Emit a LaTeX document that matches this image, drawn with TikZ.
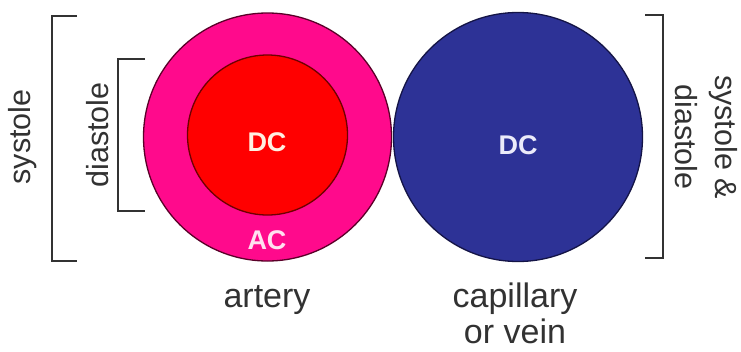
\documentclass[tikz,border=0pt]{standalone}
\usepackage{fontspec}
\setmainfont{Liberation Sans}
\definecolor{pinkc}{RGB}{255,10,140}
\definecolor{redc}{RGB}{255,0,0}
\definecolor{bluec}{RGB}{45,50,150}
\definecolor{txt}{RGB}{50,50,50}
\definecolor{lbl}{RGB}{255,240,225}
\begin{document}
\begin{tikzpicture}[x=1pt,y=-1pt,
  vessel/.style={circle,inner sep=0pt,line width=1.3pt},
  brk/.style={draw=txt,line width=2pt},
  side/.style={text=txt,font=\fontsize{30.5}{40}\selectfont,inner sep=0pt},
  bottom/.style={text=txt,font=\fontsize{34}{38}\selectfont,inner sep=0pt,align=center},
  inlbl/.style={font=\bfseries\fontsize{27}{30}\selectfont,inner sep=0pt}]
\useasboundingbox (0,0) rectangle (741,351);
\node[vessel,fill=pinkc,draw={rgb,255:red,90;green,0;blue,40},minimum size=248pt] (art) at (267.5,137) {};
\node[vessel,fill=redc,draw={rgb,255:red,110;green,0;blue,0},minimum size=160pt] (lum) at (267.5,135) {};
\node[vessel,fill=bluec,draw={rgb,255:red,20;green,20;blue,70},minimum size=249pt] (vein) at (518,137) {};
\node[inlbl,text=lbl] (dc1) at (267,142) {DC};
\node[inlbl,text={rgb,255:red,255;green,225;blue,240}] (ac) at (267,240) {AC};
\node[inlbl,text={rgb,255:red,235;green,235;blue,250}] (dc2) at (518,145) {DC};
% brackets
\coordinate (b1a) at (77,16); \coordinate (b1b) at (52,16);
\coordinate (b1c) at (52,261); \coordinate (b1d) at (77,261);
\draw[brk] (b1a) -- (b1b) -- (b1c) -- (b1d);
\coordinate (b2a) at (145,59); \coordinate (b2b) at (118,59);
\coordinate (b2c) at (118,211); \coordinate (b2d) at (145,211);
\draw[brk] (b2a) -- (b2b) -- (b2c) -- (b2d);
\coordinate (b3a) at (645,15); \coordinate (b3b) at (663,15);
\coordinate (b3c) at (663,258); \coordinate (b3d) at (645,258);
\draw[brk] (b3a) -- (b3b) -- (b3c) -- (b3d);
% labels
\node[side,rotate=90] (sys) at (23,137) {systole};
\node[side,rotate=90] (dia) at (98,135) {diastole};
\node[side,rotate=-90,align=center] (sd) at (706,137) {systole \&\\diastole};
\node[bottom,anchor=base] (artl) at (267,307) {artery};
\node[bottom,anchor=base] (cap) at (515,307) {capillary};
\node[bottom,anchor=base] (orv) at (515,343) {or vein};
\end{tikzpicture}
\end{document}
